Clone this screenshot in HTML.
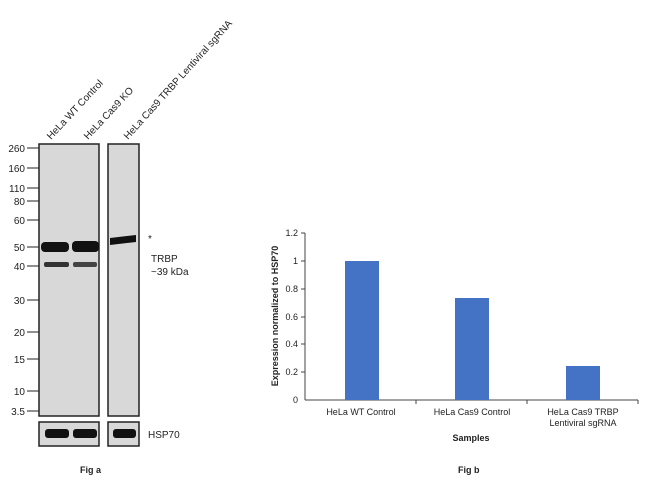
<!DOCTYPE html>
<html><head><meta charset="utf-8"><style>body{margin:0;background:#fff}</style></head><body>
<svg width="650" height="482" viewBox="0 0 650 482" xmlns="http://www.w3.org/2000/svg" font-family="Liberation Sans, Arial, sans-serif">
<rect width="650" height="482" fill="#fff"/>
<g font-size="10" fill="#222">
<text transform="translate(51,140) rotate(-47)">HeLa WT Control</text>
<text transform="translate(88,140) rotate(-47)">HeLa Cas9 KO</text>
<text transform="translate(128,140) rotate(-48)">HeLa Cas9 TRBP Lentiviral sgRNA</text>
</g>
<rect x="39" y="144" width="60" height="272" fill="#d8d8d8" stroke="#222" stroke-width="1.5"/>
<rect x="108" y="144" width="31" height="272" fill="#d8d8d8" stroke="#222" stroke-width="1.5"/>
<rect x="39" y="422" width="60" height="24" fill="#d8d8d8" stroke="#222" stroke-width="1.5"/>
<rect x="108" y="422" width="31" height="24" fill="#d8d8d8" stroke="#222" stroke-width="1.5"/>
<g fill="#111">
<rect x="41" y="242" width="28" height="10" rx="4"/>
<rect x="72" y="241" width="27" height="11" rx="4"/>
<path d="M110 238 L136 235 L136 242 L110 245 Z"/>
<rect x="44" y="262" width="25" height="5" rx="2" fill="#333"/>
<rect x="73" y="262" width="24" height="5" rx="2" fill="#444"/>
<rect x="45" y="429" width="24" height="9" rx="3"/>
<rect x="73" y="429" width="24" height="9" rx="3"/>
<rect x="113" y="429" width="23" height="9" rx="3"/>
</g>
<g font-size="10" fill="#222" text-anchor="end">
<text x="25" y="152">260</text><text x="25" y="172">160</text><text x="25" y="192">110</text><text x="25" y="205">80</text><text x="25" y="224">60</text><text x="25" y="251">50</text><text x="25" y="270">40</text><text x="25" y="304">30</text><text x="25" y="336">20</text><text x="25" y="363">15</text><text x="25" y="395">10</text><text x="25" y="415">3.5</text>
</g>
<g stroke="#222" stroke-width="1">
<line x1="27" y1="148" x2="39" y2="148"/><line x1="27" y1="168" x2="39" y2="168"/><line x1="27" y1="188" x2="39" y2="188"/><line x1="27" y1="201" x2="39" y2="201"/><line x1="27" y1="220" x2="39" y2="220"/><line x1="27" y1="247" x2="39" y2="247"/><line x1="27" y1="266" x2="39" y2="266"/><line x1="27" y1="300" x2="39" y2="300"/><line x1="27" y1="332" x2="39" y2="332"/><line x1="27" y1="359" x2="39" y2="359"/><line x1="27" y1="391" x2="39" y2="391"/><line x1="27" y1="411" x2="39" y2="411"/>
</g>
<g font-size="10" fill="#222">
<text x="148" y="242">*</text>
<text x="151" y="262">TRBP</text><text x="151" y="275">~39 kDa</text>
<text x="148" y="438">HSP70</text>
<text x="80" y="473" font-weight="bold" font-size="9">Fig a</text>
<text x="458" y="473" font-weight="bold" font-size="9">Fig b</text>
</g>
<g stroke="#444" stroke-width="1">
<line x1="305" y1="233" x2="305" y2="400"/><line x1="305" y1="400" x2="638" y2="400"/>
<line x1="301" y1="233" x2="305" y2="233"/><line x1="301" y1="261" x2="305" y2="261"/><line x1="301" y1="289" x2="305" y2="289"/><line x1="301" y1="317" x2="305" y2="317"/><line x1="301" y1="344" x2="305" y2="344"/><line x1="301" y1="372" x2="305" y2="372"/>
<line x1="416" y1="400" x2="416" y2="404"/><line x1="527" y1="400" x2="527" y2="404"/><line x1="638" y1="400" x2="638" y2="404"/>
</g>
<g fill="#4472c4">
<rect x="345" y="261" width="34" height="139"/>
<rect x="455" y="298" width="34" height="102"/>
<rect x="566" y="366" width="34" height="34"/>
</g>
<g font-size="9" fill="#222" text-anchor="end">
<text x="298" y="236">1.2</text><text x="298" y="264">1</text><text x="298" y="292">0.8</text><text x="298" y="320">0.6</text><text x="298" y="347">0.4</text><text x="298" y="375">0.2</text><text x="298" y="403">0</text>
</g>
<g font-size="9" fill="#222" text-anchor="middle">
<text x="361" y="415">HeLa WT Control</text>
<text x="472" y="415">HeLa Cas9 Control</text>
<text x="583" y="415">HeLa Cas9 TRBP</text>
<text x="583" y="426">Lentiviral sgRNA</text>
<text x="471" y="441" font-weight="bold">Samples</text>
<text transform="translate(278,316) rotate(-90)" font-weight="bold">Expression normalized to HSP70</text>
</g>
</svg>
</body></html>
